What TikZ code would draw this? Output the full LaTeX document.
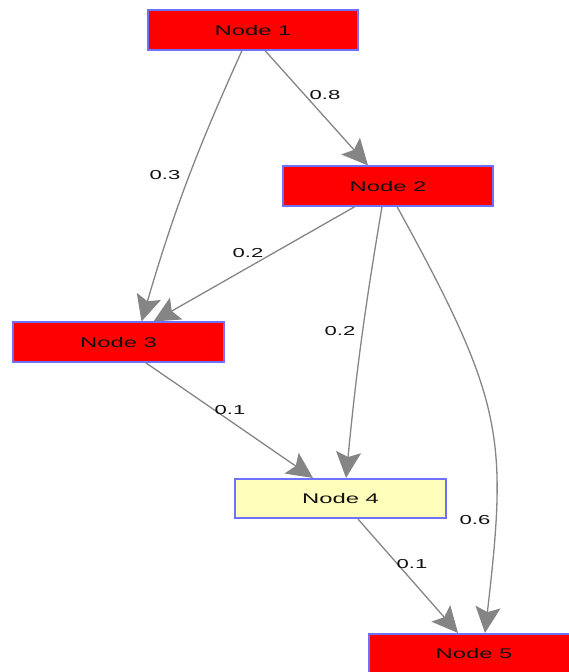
\documentclass[tikz,border=0pt]{standalone}
\usepackage{fontspec}
\setmainfont{Liberation Sans}[FakeStretch=1.7]
\usetikzlibrary{arrows.meta}
\definecolor{nodered}{HTML}{FF0000}
\definecolor{nodeyellow}{HTML}{FFFFBB}
\definecolor{nodeborder}{HTML}{7070FF}
\definecolor{edgegray}{HTML}{858585}
\definecolor{ink}{HTML}{111111}
\begin{document}
\begin{tikzpicture}[x=1pt,y=-1pt,
  box/.style={draw=nodeborder,line width=1.6pt,minimum width=210.5pt,minimum height=39.5pt,
    inner sep=0pt,text=ink,font=\fontsize{14}{16}\selectfont},
  hot/.style={box,fill=nodered},
  mild/.style={box,fill=nodeyellow},
  link/.style={draw=edgegray,line width=1.3pt,
    -{Stealth[length=26pt,width=25pt,inset=5pt,fill=edgegray]}},
  weight/.style={inner sep=0pt,text=ink,font=\fontsize{13}{15}\selectfont}]
\useasboundingbox (0,0) rectangle (569,672);
\clip (0,0) rectangle (569,672);

% nodes
\node[hot]  (n1) at (253,30)    {Node 1};
\node[hot]  (n2) at (388,186)   {Node 2};
\node[hot]  (n3) at (118.5,342) {Node 3};
\node[mild] (n4) at (340.5,498.5) {Node 4};
\node[hot]  (n5) at (474,653.5) {Node 5};

% connectors
\draw[link] ([xshift=-11pt]n1.south) to[bend right=4] ([xshift=23pt]n3.north);
\draw[link] ([xshift=12pt]n1.south) -- ([xshift=-20pt]n2.north);
\draw[link] ([xshift=-33pt]n2.south) -- ([xshift=35pt]n3.north);
\draw[link] ([xshift=-6pt]n2.south) to[bend right=2] ([xshift=5.5pt]n4.north);
\draw[link] ([xshift=9pt]n2.south) .. controls (505,403) and (507.5,437) .. ([xshift=11pt]n5.north);
\draw[link] ([xshift=27pt]n3.south) -- ([xshift=-27.5pt]n4.north);
\draw[link] ([xshift=17.5pt]n4.south) -- ([xshift=-16pt]n5.north);

% weights
\node[weight] (w13) at (165,175) {0.3};
\node[weight] (w12) at (325,95)  {0.8};
\node[weight] (w23) at (248,253) {0.2};
\node[weight] (w24) at (340,331) {0.2};
\node[weight] (w25) at (475,520) {0.6};
\node[weight] (w34) at (230,410) {0.1};
\node[weight] (w45) at (412,564) {0.1};
\end{tikzpicture}
\end{document}
